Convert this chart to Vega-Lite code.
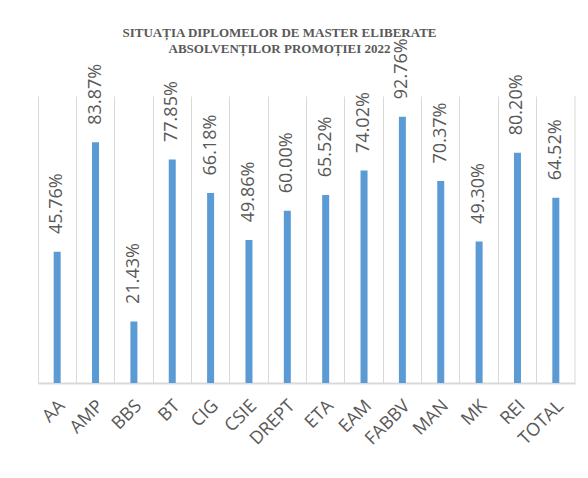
{
  "$schema": "https://vega.github.io/schema/vega-lite/v6.json",
  "autosize": "none",
  "width": 537,
  "height": 287,
  "padding": {"left": 38, "top": 96, "right": 13, "bottom": 95},
  "title": {
    "text": ["SITUAȚIA DIPLOMELOR DE MASTER ELIBERATE", "ABSOLVENȚILOR PROMOȚIEI 2022"],
    "font": "Liberation Serif",
    "fontSize": 13,
    "fontWeight": "bold",
    "color": "#595959",
    "anchor": "middle",
    "dx": -27,
    "offset": -18,
    "lineHeight": 16
  },
  "data": {
    "values": [
      {"cat": "AA", "val": 0.4576},
      {"cat": "AMP", "val": 0.8387},
      {"cat": "BBS", "val": 0.2143},
      {"cat": "BT", "val": 0.7785},
      {"cat": "CIG", "val": 0.6618},
      {"cat": "CSIE", "val": 0.4986},
      {"cat": "DREPT", "val": 0.6000},
      {"cat": "ETA", "val": 0.6552},
      {"cat": "EAM", "val": 0.7402},
      {"cat": "FABBV", "val": 0.9276},
      {"cat": "MAN", "val": 0.7037},
      {"cat": "MK", "val": 0.4930},
      {"cat": "REI", "val": 0.8020},
      {"cat": "TOTAL", "val": 0.6452}
    ]
  },
  "encoding": {
    "x": {
      "field": "cat",
      "type": "nominal",
      "sort": null,
      "scale": {
        "domain": ["AA", "AMP", "BBS", "BT", "CIG", "CSIE", "DREPT", "ETA", "EAM", "FABBV", "MAN", "MK", "REI", "TOTAL"],
        "paddingInner": 0,
        "paddingOuter": 0
      },
      "axis": {
        "title": null,
        "labelAngle": -45,
        "labelAlign": "right",
        "labelBaseline": "middle",
        "labelFont": "Open Sans",
        "labelFontSize": 18,
        "labelColor": "#595959",
        "labelPadding": 20,
        "labelOffset": 5,
        "ticks": false,
        "domainColor": "#d9d9d9",
        "domainWidth": 2,
        "grid": true,
        "gridColor": "#d9d9d9",
        "gridWidth": 1,
        "bandPosition": 0
      }
    },
    "y": {
      "field": "val",
      "type": "quantitative",
      "scale": {"domain": [0, 1], "nice": false},
      "axis": null
    }
  },
  "layer": [
    {
      "data": {"values": [{"cat": "TOTAL"}]},
      "mark": {"type": "rule", "color": "#d9d9d9", "strokeWidth": 1},
      "encoding": {
        "x": {"field": "cat", "type": "nominal", "bandPosition": 1},
        "y": null
      }
    },
    {
      "mark": {"type": "bar", "color": "#5B9BD5", "width": 7}
    },
    {
      "mark": {
        "type": "text",
        "angle": -90,
        "align": "center",
        "baseline": "middle",
        "dx": 48,
        "font": "Open Sans",
        "fontSize": 18,
        "color": "#595959"
      },
      "encoding": {
        "text": {"field": "val", "type": "quantitative", "format": ".2%"}
      }
    }
  ],
  "config": {"view": {"stroke": null}}
}
